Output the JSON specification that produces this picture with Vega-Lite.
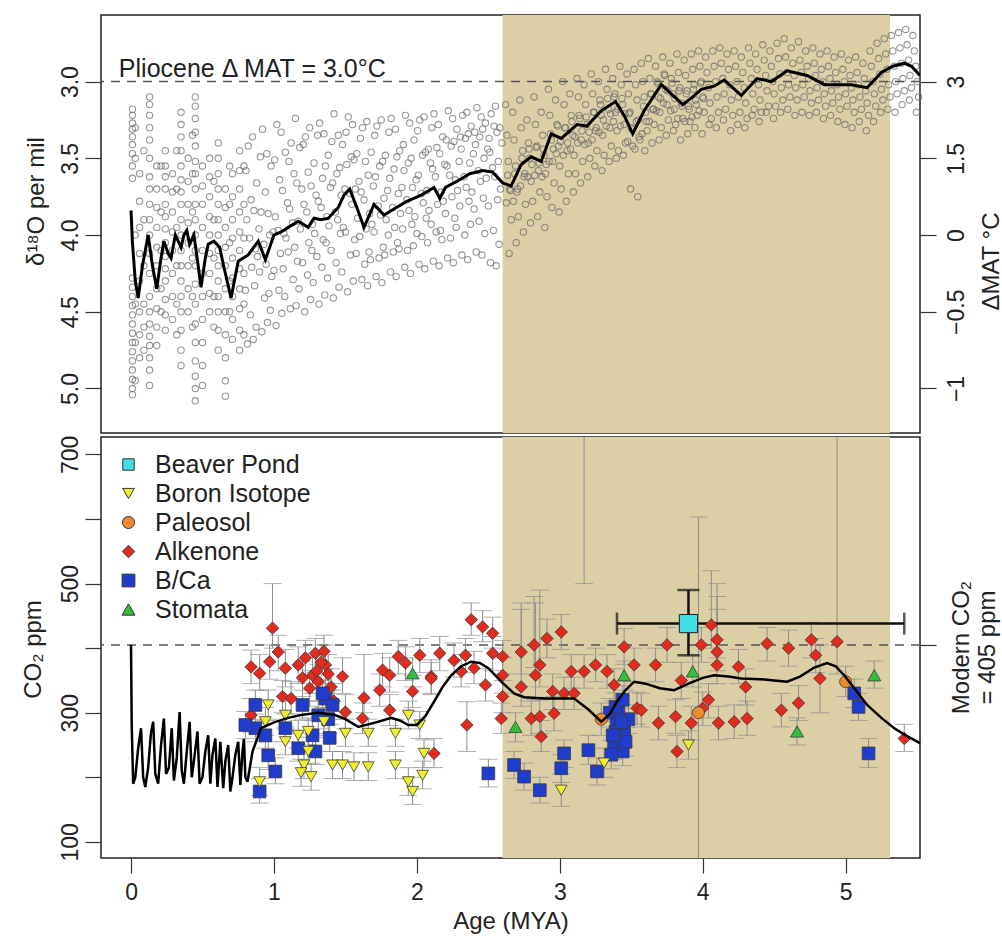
{
"$schema": "https://vega.github.io/schema/vega-lite/v6.json",
"autosize": {"type": "pad"},
"padding": {"left": 20, "top": 14, "right": 0, "bottom": 0},
"background": "white",
"spacing": 0,
"resolve": {"legend": {"color": "independent", "shape": "independent", "size": "independent"}},
"config": {
  "font": "Liberation Sans",
  "view": {"stroke": "#222", "strokeWidth": 1.5},
  "axis": {"labelFont": "Liberation Sans", "titleFont": "Liberation Sans", "labelFontSize": 23, "titleFontSize": 24, "titleFontWeight": "normal", "labelColor": "#222", "titleColor": "#222", "tickColor": "#333", "tickWidth": 1.2, "tickSize": 16, "domain": false, "grid": false},
  "legend": {"labelFont": "Liberation Sans"}
},
"datasets": {
  "shade": [{"x1": 2.6, "x2": 5.31}],
  "iso": [
{"age":0.01,"d":3.18},{"age":0.01,"d":3.22},{"age":0.01,"d":3.27},{"age":0.01,"d":3.31},{"age":0.01,"d":3.36},{"age":0.01,"d":3.41},{"age":0.01,"d":3.47},{"age":0.01,"d":3.55},{"age":0.01,"d":3.63},{"age":0.01,"d":4.28},{"age":0.01,"d":4.34},{"age":0.01,"d":4.4},{"age":0.01,"d":4.46},{"age":0.01,"d":4.52},{"age":0.01,"d":4.58},{"age":0.01,"d":4.64},{"age":0.01,"d":4.7},{"age":0.01,"d":4.76},{"age":0.01,"d":4.82},{"age":0.01,"d":4.88},{"age":0.01,"d":4.94},{"age":0.01,"d":5.0},{"age":0.01,"d":5.04},
{"age":0.03,"d":3.3},{"age":0.03,"d":3.5},{"age":0.03,"d":4.0},{"age":0.03,"d":4.45},{"age":0.03,"d":4.7},{"age":0.03,"d":4.95},
{"age":0.06,"d":3.6},{"age":0.06,"d":3.78},{"age":0.06,"d":3.95},{"age":0.06,"d":4.12},{"age":0.06,"d":4.3},{"age":0.06,"d":4.5},{"age":0.06,"d":4.65},{"age":0.06,"d":4.8},
{"age":0.09,"d":3.45},{"age":0.09,"d":3.9},{"age":0.09,"d":4.2},{"age":0.09,"d":4.45},{"age":0.09,"d":4.6},{"age":0.09,"d":4.75},
{"age":0.13,"d":3.1},{"age":0.13,"d":3.15},{"age":0.13,"d":3.22},{"age":0.13,"d":3.3},{"age":0.13,"d":3.38},{"age":0.13,"d":3.5},{"age":0.13,"d":3.62},{"age":0.13,"d":3.7},{"age":0.13,"d":3.8},{"age":0.13,"d":3.9},{"age":0.13,"d":4.0},{"age":0.13,"d":4.12},{"age":0.13,"d":4.25},{"age":0.13,"d":4.4},{"age":0.13,"d":4.5},{"age":0.13,"d":4.58},{"age":0.13,"d":4.66},{"age":0.13,"d":4.72},{"age":0.13,"d":4.8},{"age":0.13,"d":4.88},{"age":0.13,"d":4.98},
{"age":0.18,"d":3.55},{"age":0.18,"d":3.7},{"age":0.18,"d":3.82},{"age":0.18,"d":3.95},{"age":0.18,"d":4.08},{"age":0.18,"d":4.2},{"age":0.18,"d":4.35},{"age":0.18,"d":4.48},{"age":0.18,"d":4.6},{"age":0.18,"d":4.72},
{"age":0.21,"d":3.55},{"age":0.21,"d":3.85},{"age":0.21,"d":4.1},{"age":0.21,"d":4.35},{"age":0.21,"d":4.5},
{"age":0.24,"d":3.45},{"age":0.24,"d":3.55},{"age":0.24,"d":3.62},{"age":0.24,"d":3.7},{"age":0.24,"d":3.8},{"age":0.24,"d":3.88},{"age":0.24,"d":3.96},{"age":0.24,"d":4.05},{"age":0.24,"d":4.14},{"age":0.24,"d":4.22},{"age":0.24,"d":4.3},{"age":0.24,"d":4.42},{"age":0.24,"d":4.52},{"age":0.24,"d":4.62},
{"age":0.29,"d":3.6},{"age":0.29,"d":3.72},{"age":0.29,"d":3.85},{"age":0.29,"d":3.98},{"age":0.29,"d":4.1},{"age":0.29,"d":4.25},{"age":0.29,"d":4.4},{"age":0.29,"d":4.55},
{"age":0.32,"d":3.45},{"age":0.32,"d":3.7},{"age":0.32,"d":3.95},{"age":0.32,"d":4.2},{"age":0.32,"d":4.45},{"age":0.32,"d":4.65},
{"age":0.35,"d":3.2},{"age":0.35,"d":3.28},{"age":0.35,"d":3.36},{"age":0.35,"d":3.45},{"age":0.35,"d":3.55},{"age":0.35,"d":3.64},{"age":0.35,"d":3.72},{"age":0.35,"d":3.8},{"age":0.35,"d":3.9},{"age":0.35,"d":4.0},{"age":0.35,"d":4.1},{"age":0.35,"d":4.2},{"age":0.35,"d":4.3},{"age":0.35,"d":4.4},{"age":0.35,"d":4.5},{"age":0.35,"d":4.62},{"age":0.35,"d":4.75},{"age":0.35,"d":4.85},
{"age":0.4,"d":3.5},{"age":0.4,"d":3.65},{"age":0.4,"d":3.8},{"age":0.4,"d":3.92},{"age":0.4,"d":4.05},{"age":0.4,"d":4.2},{"age":0.4,"d":4.35},{"age":0.4,"d":4.5},
{"age":0.43,"d":3.35},{"age":0.43,"d":3.6},{"age":0.43,"d":3.85},{"age":0.43,"d":4.15},{"age":0.43,"d":4.4},{"age":0.43,"d":4.6},
{"age":0.45,"d":3.1},{"age":0.45,"d":3.16},{"age":0.45,"d":3.24},{"age":0.45,"d":3.33},{"age":0.45,"d":3.42},{"age":0.45,"d":3.52},{"age":0.45,"d":3.6},{"age":0.45,"d":3.7},{"age":0.45,"d":3.8},{"age":0.45,"d":3.9},{"age":0.45,"d":4.0},{"age":0.45,"d":4.1},{"age":0.45,"d":4.2},{"age":0.45,"d":4.32},{"age":0.45,"d":4.45},{"age":0.45,"d":4.58},{"age":0.45,"d":4.7},{"age":0.45,"d":4.82},{"age":0.45,"d":4.92},{"age":0.45,"d":5.0},{"age":0.45,"d":5.08},
{"age":0.5,"d":3.55},{"age":0.5,"d":3.68},{"age":0.5,"d":3.8},{"age":0.5,"d":3.95},{"age":0.5,"d":4.1},{"age":0.5,"d":4.25},{"age":0.5,"d":4.4},{"age":0.5,"d":4.55},{"age":0.5,"d":4.7},{"age":0.5,"d":4.85},{"age":0.5,"d":4.98},
{"age":0.55,"d":3.5},{"age":0.55,"d":3.62},{"age":0.55,"d":3.75},{"age":0.55,"d":3.88},{"age":0.55,"d":4.0},{"age":0.55,"d":4.12},{"age":0.55,"d":4.25},{"age":0.55,"d":4.38},{"age":0.55,"d":4.5},
{"age":0.58,"d":3.65},{"age":0.58,"d":3.9},{"age":0.58,"d":4.15},{"age":0.58,"d":4.4},{"age":0.58,"d":4.6},
{"age":0.61,"d":3.4},{"age":0.61,"d":3.5},{"age":0.61,"d":3.6},{"age":0.61,"d":3.7},{"age":0.61,"d":3.8},{"age":0.61,"d":3.9},{"age":0.61,"d":4.0},{"age":0.61,"d":4.1},{"age":0.61,"d":4.2},{"age":0.61,"d":4.3},{"age":0.61,"d":4.4},{"age":0.61,"d":4.5},{"age":0.61,"d":4.62},{"age":0.61,"d":4.75},
{"age":0.66,"d":3.7},{"age":0.66,"d":3.82},{"age":0.66,"d":3.95},{"age":0.66,"d":4.08},{"age":0.66,"d":4.2},{"age":0.66,"d":4.35},{"age":0.66,"d":4.5},{"age":0.66,"d":4.65},{"age":0.66,"d":4.8},{"age":0.66,"d":4.95},{"age":0.66,"d":5.05},
{"age":0.69,"d":3.55},{"age":0.69,"d":3.8},{"age":0.69,"d":4.05},{"age":0.69,"d":4.3},{"age":0.69,"d":4.5},
{"age":0.71,"d":3.6},{"age":0.71,"d":3.75},{"age":0.71,"d":3.9},{"age":0.71,"d":4.02},{"age":0.71,"d":4.15},{"age":0.71,"d":4.28},{"age":0.71,"d":4.4},{"age":0.71,"d":4.55},{"age":0.71,"d":4.68},
{"age":0.76,"d":3.45},{"age":0.76,"d":3.58},{"age":0.76,"d":3.7},{"age":0.76,"d":3.85},{"age":0.76,"d":3.98},{"age":0.76,"d":4.1},{"age":0.76,"d":4.22},{"age":0.76,"d":4.35},{"age":0.76,"d":4.48},{"age":0.76,"d":4.62},{"age":0.76,"d":4.75},
{"age":0.79,"d":3.55},{"age":0.79,"d":3.8},{"age":0.79,"d":4.02},{"age":0.79,"d":4.25},{"age":0.79,"d":4.45},{"age":0.79,"d":4.65},
{"age":0.82,"d":3.42},{"age":0.805,"d":3.58},{"age":0.84,"d":3.77},{"age":0.81,"d":3.9},{"age":0.83,"d":4.02},{"age":0.845,"d":4.21},{"age":0.8,"d":4.36},{"age":0.835,"d":4.52},{"age":0.815,"d":4.71},
{"age":0.85,"d":3.36},{"age":0.88,"d":3.66},{"age":0.86,"d":3.84},{"age":0.895,"d":3.96},{"age":0.87,"d":4.09},{"age":0.885,"d":4.14},{"age":0.865,"d":4.33},{"age":0.875,"d":4.6},{"age":0.855,"d":4.68},
{"age":0.92,"d":3.31},{"age":0.905,"d":3.49},{"age":0.94,"d":3.72},{"age":0.91,"d":3.85},{"age":0.93,"d":4.06},{"age":0.945,"d":4.19},{"age":0.9,"d":4.24},{"age":0.935,"d":4.41},{"age":0.915,"d":4.63},
{"age":0.95,"d":3.47},{"age":0.98,"d":3.55},{"age":0.96,"d":3.86},{"age":0.995,"d":3.98},{"age":0.97,"d":4.0},{"age":0.985,"d":4.27},{"age":0.965,"d":4.38},{"age":0.975,"d":4.49},{"age":0.955,"d":4.57},
{"age":1.02,"d":3.28},{"age":1.005,"d":3.51},{"age":1.04,"d":3.64},{"age":1.01,"d":3.88},{"age":1.03,"d":3.97},{"age":1.045,"d":4.12},{"age":1.0,"d":4.23},{"age":1.035,"d":4.36},{"age":1.015,"d":4.59},
{"age":1.05,"d":3.33},{"age":1.08,"d":3.46},{"age":1.06,"d":3.71},{"age":1.095,"d":3.79},{"age":1.07,"d":3.99},{"age":1.085,"d":4.02},{"age":1.065,"d":4.22},{"age":1.075,"d":4.4},{"age":1.055,"d":4.51},
{"age":1.12,"d":3.4},{"age":1.105,"d":3.52},{"age":1.14,"d":3.6},{"age":1.11,"d":3.83},{"age":1.13,"d":3.92},{"age":1.145,"d":4.08},{"age":1.1,"d":4.11},{"age":1.135,"d":4.29},{"age":1.115,"d":4.48},
{"age":1.15,"d":3.24},{"age":1.18,"d":3.43},{"age":1.16,"d":3.66},{"age":1.195,"d":3.7},{"age":1.17,"d":3.91},{"age":1.185,"d":3.96},{"age":1.165,"d":4.17},{"age":1.175,"d":4.35},{"age":1.155,"d":4.46},
{"age":1.22,"d":3.36},{"age":1.205,"d":3.41},{"age":1.24,"d":3.59},{"age":1.21,"d":3.8},{"age":1.23,"d":3.85},{"age":1.245,"d":4.05},{"age":1.2,"d":4.18},{"age":1.235,"d":4.26},{"age":1.215,"d":4.5},
{"age":1.25,"d":3.3},{"age":1.28,"d":3.53},{"age":1.26,"d":3.68},{"age":1.295,"d":3.74},{"age":1.27,"d":3.93},{"age":1.285,"d":3.99},{"age":1.265,"d":4.1},{"age":1.275,"d":4.31},{"age":1.255,"d":4.42},
{"age":1.32,"d":3.27},{"age":1.305,"d":3.35},{"age":1.34,"d":3.63},{"age":1.31,"d":3.78},{"age":1.33,"d":3.82},{"age":1.345,"d":4.03},{"age":1.3,"d":4.14},{"age":1.335,"d":4.21},{"age":1.315,"d":4.45},
{"age":1.35,"d":3.34},{"age":1.38,"d":3.48},{"age":1.36,"d":3.55},{"age":1.395,"d":3.69},{"age":1.37,"d":3.88},{"age":1.385,"d":3.94},{"age":1.365,"d":4.05},{"age":1.375,"d":4.28},{"age":1.355,"d":4.39},
{"age":1.42,"d":3.21},{"age":1.405,"d":3.39},{"age":1.44,"d":3.6},{"age":1.41,"d":3.66},{"age":1.43,"d":3.85},{"age":1.445,"d":3.9},{"age":1.4,"d":4.1},{"age":1.435,"d":4.18},{"age":1.415,"d":4.41},
{"age":1.45,"d":3.35},{"age":1.48,"d":3.41},{"age":1.46,"d":3.56},{"age":1.495,"d":3.7},{"age":1.47,"d":3.74},{"age":1.485,"d":3.95},{"age":1.465,"d":3.99},{"age":1.475,"d":4.24},{"age":1.455,"d":4.34},
{"age":1.52,"d":3.23},{"age":1.505,"d":3.33},{"age":1.54,"d":3.49},{"age":1.51,"d":3.54},{"age":1.53,"d":3.73},{"age":1.545,"d":3.8},{"age":1.5,"d":3.98},{"age":1.535,"d":4.13},{"age":1.515,"d":4.37},
{"age":1.55,"d":3.28},{"age":1.58,"d":3.47},{"age":1.56,"d":3.51},{"age":1.595,"d":3.65},{"age":1.57,"d":3.7},{"age":1.585,"d":3.89},{"age":1.565,"d":4.03},{"age":1.575,"d":4.12},{"age":1.555,"d":4.3},
{"age":1.62,"d":3.3},{"age":1.605,"d":3.37},{"age":1.64,"d":3.52},{"age":1.61,"d":3.72},{"age":1.63,"d":3.77},{"age":1.645,"d":3.96},{"age":1.6,"d":4.01},{"age":1.635,"d":4.19},{"age":1.615,"d":4.29},
{"age":1.65,"d":3.26},{"age":1.68,"d":3.46},{"age":1.66,"d":3.61},{"age":1.695,"d":3.68},{"age":1.67,"d":3.86},{"age":1.685,"d":3.93},{"age":1.665,"d":4.11},{"age":1.675,"d":4.16},{"age":1.655,"d":4.33},
{"age":1.72,"d":3.29},{"age":1.705,"d":3.35},{"age":1.74,"d":3.55},{"age":1.71,"d":3.62},{"age":1.73,"d":3.81},{"age":1.745,"d":3.87},{"age":1.7,"d":3.98},{"age":1.735,"d":4.15},{"age":1.715,"d":4.27},
{"age":1.75,"d":3.25},{"age":1.78,"d":3.48},{"age":1.76,"d":3.52},{"age":1.795,"d":3.71},{"age":1.77,"d":3.76},{"age":1.785,"d":3.9},{"age":1.765,"d":4.08},{"age":1.775,"d":4.13},{"age":1.755,"d":4.31},
{"age":1.82,"d":3.24},{"age":1.805,"d":3.33},{"age":1.84,"d":3.57},{"age":1.81,"d":3.63},{"age":1.83,"d":3.82},{"age":1.845,"d":3.95},{"age":1.8,"d":4.0},{"age":1.835,"d":4.11},{"age":1.815,"d":4.24},
{"age":1.85,"d":3.31},{"age":1.88,"d":3.45},{"age":1.86,"d":3.49},{"age":1.895,"d":3.69},{"age":1.87,"d":3.73},{"age":1.885,"d":3.86},{"age":1.865,"d":4.05},{"age":1.875,"d":4.09},{"age":1.855,"d":4.27},
{"age":1.92,"d":3.22},{"age":1.905,"d":3.41},{"age":1.94,"d":3.53},{"age":1.91,"d":3.58},{"age":1.93,"d":3.77},{"age":1.945,"d":3.84},{"age":1.9,"d":3.96},{"age":1.935,"d":4.1},{"age":1.915,"d":4.21},
{"age":1.95,"d":3.27},{"age":1.98,"d":3.38},{"age":1.96,"d":3.5},{"age":1.995,"d":3.64},{"age":1.97,"d":3.69},{"age":1.985,"d":3.88},{"age":1.965,"d":3.93},{"age":1.975,"d":4.07},{"age":1.955,"d":4.25},
{"age":2.02,"d":3.25},{"age":2.005,"d":3.32},{"age":2.04,"d":3.48},{"age":2.01,"d":3.61},{"age":2.03,"d":3.73},{"age":2.045,"d":3.79},{"age":2.0,"d":3.99},{"age":2.035,"d":4.01},{"age":2.015,"d":4.19},
{"age":2.05,"d":3.23},{"age":2.08,"d":3.44},{"age":2.06,"d":3.46},{"age":2.095,"d":3.53},{"age":2.07,"d":3.71},{"age":2.085,"d":3.84},{"age":2.065,"d":3.89},{"age":2.075,"d":4.05},{"age":2.055,"d":4.22},
{"age":2.12,"d":3.21},{"age":2.105,"d":3.3},{"age":2.14,"d":3.43},{"age":2.11,"d":3.57},{"age":2.13,"d":3.62},{"age":2.145,"d":3.8},{"age":2.1,"d":3.93},{"age":2.135,"d":3.98},{"age":2.115,"d":4.17},
{"age":2.15,"d":3.28},{"age":2.18,"d":3.36},{"age":2.16,"d":3.47},{"age":2.195,"d":3.54},{"age":2.17,"d":3.72},{"age":2.185,"d":3.78},{"age":2.165,"d":3.97},{"age":2.175,"d":4.03},{"age":2.155,"d":4.2},
{"age":2.22,"d":3.19},{"age":2.205,"d":3.38},{"age":2.24,"d":3.42},{"age":2.21,"d":3.55},{"age":2.23,"d":3.61},{"age":2.245,"d":3.75},{"age":2.2,"d":3.86},{"age":2.235,"d":4.02},{"age":2.215,"d":4.15},
{"age":2.25,"d":3.24},{"age":2.28,"d":3.31},{"age":2.26,"d":3.39},{"age":2.295,"d":3.52},{"age":2.27,"d":3.64},{"age":2.285,"d":3.71},{"age":2.265,"d":3.89},{"age":2.275,"d":3.95},{"age":2.255,"d":4.18},
{"age":2.32,"d":3.22},{"age":2.305,"d":3.36},{"age":2.34,"d":3.37},{"age":2.31,"d":3.44},{"age":2.33,"d":3.62},{"age":2.345,"d":3.69},{"age":2.3,"d":3.81},{"age":2.335,"d":4.0},{"age":2.315,"d":4.13},
{"age":2.35,"d":3.2},{"age":2.38,"d":3.29},{"age":2.36,"d":3.34},{"age":2.395,"d":3.47},{"age":2.37,"d":3.53},{"age":2.385,"d":3.72},{"age":2.365,"d":3.78},{"age":2.375,"d":3.93},{"age":2.355,"d":4.16},
{"age":2.42,"d":3.17},{"age":2.405,"d":3.33},{"age":2.44,"d":3.36},{"age":2.41,"d":3.41},{"age":2.43,"d":3.58},{"age":2.445,"d":3.65},{"age":2.4,"d":3.83},{"age":2.435,"d":3.91},{"age":2.415,"d":4.11},
{"age":2.45,"d":3.23},{"age":2.48,"d":3.27},{"age":2.46,"d":3.31},{"age":2.495,"d":3.44},{"age":2.47,"d":3.5},{"age":2.485,"d":3.63},{"age":2.465,"d":3.76},{"age":2.475,"d":3.99},{"age":2.455,"d":4.13},
{"age":2.52,"d":3.21},{"age":2.505,"d":3.37},{"age":2.54,"d":3.29},{"age":2.51,"d":3.46},{"age":2.53,"d":3.56},{"age":2.545,"d":3.62},{"age":2.5,"d":3.81},{"age":2.535,"d":3.97},{"age":2.515,"d":4.18},
{"age":2.55,"d":3.16},{"age":2.58,"d":3.3},{"age":2.56,"d":3.33},{"age":2.595,"d":3.4},{"age":2.57,"d":3.52},{"age":2.585,"d":3.7},{"age":2.565,"d":3.77},{"age":2.575,"d":4.06},{"age":2.555,"d":4.2},
{"age":2.62,"d":3.15},{"age":2.63,"d":3.35},{"age":2.64,"d":3.52},{"age":2.65,"d":3.7},{"age":2.66,"d":3.9},{"age":2.645,"d":4.12},{"age":2.635,"d":3.61},{"age":2.655,"d":3.71},{"age":2.625,"d":3.79},
{"age":2.67,"d":3.2},{"age":2.68,"d":3.38},{"age":2.69,"d":3.55},{"age":2.7,"d":3.72},{"age":2.71,"d":3.88},{"age":2.695,"d":4.05},{"age":2.685,"d":3.6},{"age":2.705,"d":3.7},{"age":2.675,"d":3.78},
{"age":2.72,"d":3.12},{"age":2.73,"d":3.3},{"age":2.74,"d":3.45},{"age":2.75,"d":3.62},{"age":2.76,"d":3.8},{"age":2.745,"d":3.98},{"age":2.735,"d":3.5},{"age":2.755,"d":3.6},{"age":2.725,"d":3.68},
{"age":2.77,"d":3.25},{"age":2.78,"d":3.4},{"age":2.79,"d":3.5},{"age":2.8,"d":3.65},{"age":2.81,"d":3.78},{"age":2.795,"d":3.92},{"age":2.785,"d":3.44},{"age":2.805,"d":3.54},{"age":2.775,"d":3.62},
{"age":2.82,"d":3.1},{"age":2.83,"d":3.28},{"age":2.84,"d":3.42},{"age":2.85,"d":3.58},{"age":2.86,"d":3.72},{"age":2.845,"d":3.88},{"age":2.835,"d":3.43},{"age":2.855,"d":3.53},{"age":2.825,"d":3.61},
{"age":2.87,"d":3.2},{"age":2.88,"d":3.35},{"age":2.89,"d":3.48},{"age":2.9,"d":3.6},{"age":2.91,"d":3.75},{"age":2.895,"d":3.95},{"age":2.885,"d":3.44},{"age":2.905,"d":3.54},{"age":2.875,"d":3.62},
{"age":2.92,"d":3.05},{"age":2.93,"d":3.22},{"age":2.94,"d":3.38},{"age":2.95,"d":3.52},{"age":2.96,"d":3.66},{"age":2.945,"d":3.82},{"age":2.935,"d":3.34},{"age":2.955,"d":3.44},{"age":2.925,"d":3.52},
{"age":2.97,"d":3.12},{"age":2.98,"d":3.28},{"age":2.99,"d":3.42},{"age":3.0,"d":3.55},{"age":3.01,"d":3.7},{"age":2.995,"d":3.85},{"age":2.985,"d":3.29},{"age":3.005,"d":3.39},{"age":2.975,"d":3.47},
{"age":3.02,"d":3.0},{"age":3.03,"d":3.15},{"age":3.04,"d":3.3},{"age":3.05,"d":3.45},{"age":3.06,"d":3.6},{"age":3.045,"d":3.78},{"age":3.035,"d":3.3},{"age":3.055,"d":3.4},{"age":3.025,"d":3.48},
{"age":3.07,"d":3.08},{"age":3.08,"d":3.22},{"age":3.09,"d":3.35},{"age":3.1,"d":3.48},{"age":3.11,"d":3.6},{"age":3.095,"d":3.72},{"age":3.085,"d":3.26},{"age":3.105,"d":3.36},{"age":3.075,"d":3.44},
{"age":3.12,"d":2.98},{"age":3.13,"d":3.1},{"age":3.14,"d":3.24},{"age":3.15,"d":3.38},{"age":3.16,"d":3.52},{"age":3.145,"d":3.66},{"age":3.135,"d":3.22},{"age":3.155,"d":3.32},{"age":3.125,"d":3.4},
{"age":3.17,"d":3.02},{"age":3.18,"d":3.15},{"age":3.19,"d":3.28},{"age":3.2,"d":3.4},{"age":3.21,"d":3.5},{"age":3.195,"d":3.62},{"age":3.185,"d":3.23},{"age":3.205,"d":3.33},{"age":3.175,"d":3.41},
{"age":3.22,"d":2.95},{"age":3.23,"d":3.08},{"age":3.24,"d":3.2},{"age":3.25,"d":3.32},{"age":3.26,"d":3.45},{"age":3.245,"d":3.55},{"age":3.235,"d":3.2},{"age":3.255,"d":3.3},{"age":3.225,"d":3.38},
{"age":3.27,"d":3.0},{"age":3.28,"d":3.12},{"age":3.29,"d":3.22},{"age":3.3,"d":3.35},{"age":3.31,"d":3.48},{"age":3.295,"d":3.58},{"age":3.285,"d":3.15},{"age":3.305,"d":3.25},{"age":3.275,"d":3.33},
{"age":3.32,"d":2.92},{"age":3.33,"d":3.05},{"age":3.34,"d":3.18},{"age":3.35,"d":3.3},{"age":3.36,"d":3.42},{"age":3.345,"d":3.52},{"age":3.335,"d":3.11},{"age":3.355,"d":3.21},{"age":3.325,"d":3.29},
{"age":3.37,"d":2.98},{"age":3.38,"d":3.1},{"age":3.39,"d":3.2},{"age":3.4,"d":3.32},{"age":3.41,"d":3.45},{"age":3.395,"d":3.5},{"age":3.385,"d":3.08},{"age":3.405,"d":3.18},{"age":3.375,"d":3.26},
{"age":3.42,"d":2.9},{"age":3.43,"d":3.02},{"age":3.44,"d":3.15},{"age":3.45,"d":3.28},{"age":3.46,"d":3.4},{"age":3.445,"d":3.48},{"age":3.435,"d":3.11},{"age":3.455,"d":3.21},{"age":3.425,"d":3.29},
{"age":3.47,"d":2.95},{"age":3.48,"d":3.08},{"age":3.49,"d":3.2},{"age":3.5,"d":3.3},{"age":3.51,"d":3.42},{"age":3.495,"d":3.7},{"age":3.485,"d":3.21},{"age":3.505,"d":3.31},{"age":3.475,"d":3.39},
{"age":3.52,"d":2.92},{"age":3.53,"d":3.02},{"age":3.54,"d":3.12},{"age":3.55,"d":3.25},{"age":3.56,"d":3.38},{"age":3.545,"d":3.75},{"age":3.535,"d":3.26},{"age":3.555,"d":3.36},{"age":3.525,"d":3.44},
{"age":3.57,"d":2.88},{"age":3.58,"d":3.0},{"age":3.59,"d":3.1},{"age":3.6,"d":3.2},{"age":3.61,"d":3.32},{"age":3.595,"d":3.45},{"age":3.585,"d":3.16},{"age":3.605,"d":3.26},{"age":3.575,"d":3.34},
{"age":3.62,"d":2.85},{"age":3.63,"d":2.98},{"age":3.64,"d":3.08},{"age":3.65,"d":3.18},{"age":3.66,"d":3.28},{"age":3.645,"d":3.4},{"age":3.635,"d":3.08},{"age":3.655,"d":3.18},{"age":3.625,"d":3.26},
{"age":3.67,"d":2.9},{"age":3.68,"d":3.0},{"age":3.69,"d":3.1},{"age":3.7,"d":3.2},{"age":3.71,"d":3.3},{"age":3.695,"d":3.38},{"age":3.685,"d":3.01},{"age":3.705,"d":3.11},{"age":3.675,"d":3.19},
{"age":3.72,"d":2.84},{"age":3.73,"d":2.95},{"age":3.74,"d":3.05},{"age":3.75,"d":3.15},{"age":3.76,"d":3.25},{"age":3.745,"d":3.35},{"age":3.735,"d":2.96},{"age":3.755,"d":3.06},{"age":3.725,"d":3.14},
{"age":3.77,"d":2.88},{"age":3.78,"d":2.98},{"age":3.79,"d":3.08},{"age":3.8,"d":3.18},{"age":3.81,"d":3.28},{"age":3.795,"d":3.32},{"age":3.785,"d":3.01},{"age":3.805,"d":3.11},{"age":3.775,"d":3.19},
{"age":3.82,"d":2.82},{"age":3.83,"d":2.94},{"age":3.84,"d":3.04},{"age":3.85,"d":3.14},{"age":3.86,"d":3.24},{"age":3.845,"d":3.38},{"age":3.835,"d":3.06},{"age":3.855,"d":3.16},{"age":3.825,"d":3.24},
{"age":3.87,"d":2.86},{"age":3.88,"d":2.96},{"age":3.89,"d":3.06},{"age":3.9,"d":3.16},{"age":3.91,"d":3.26},{"age":3.895,"d":3.34},{"age":3.885,"d":3.08},{"age":3.905,"d":3.18},{"age":3.875,"d":3.26},
{"age":3.92,"d":2.82},{"age":3.93,"d":2.92},{"age":3.94,"d":3.02},{"age":3.95,"d":3.12},{"age":3.96,"d":3.22},{"age":3.945,"d":3.3},{"age":3.935,"d":3.05},{"age":3.955,"d":3.15},{"age":3.925,"d":3.23},
{"age":3.97,"d":2.8},{"age":3.98,"d":2.9},{"age":3.99,"d":3.0},{"age":4.0,"d":3.1},{"age":4.01,"d":3.2},{"age":3.995,"d":3.34},{"age":3.985,"d":3.01},{"age":4.005,"d":3.11},{"age":3.975,"d":3.19},
{"age":4.02,"d":2.84},{"age":4.03,"d":2.94},{"age":4.04,"d":3.04},{"age":4.05,"d":3.14},{"age":4.06,"d":3.24},{"age":4.045,"d":3.28},
{"age":4.07,"d":2.8},{"age":4.08,"d":2.9},{"age":4.09,"d":3.0},{"age":4.1,"d":3.1},{"age":4.11,"d":3.2},{"age":4.095,"d":3.3},
{"age":4.12,"d":2.78},{"age":4.13,"d":2.88},{"age":4.14,"d":2.98},{"age":4.15,"d":3.08},{"age":4.16,"d":3.18},{"age":4.145,"d":3.25},
{"age":4.17,"d":2.82},{"age":4.18,"d":2.92},{"age":4.19,"d":3.02},{"age":4.2,"d":3.12},{"age":4.21,"d":3.22},{"age":4.195,"d":3.32},
{"age":4.22,"d":2.8},{"age":4.23,"d":2.9},{"age":4.24,"d":3.0},{"age":4.25,"d":3.1},{"age":4.26,"d":3.2},{"age":4.245,"d":3.28},
{"age":4.27,"d":2.84},{"age":4.28,"d":2.94},{"age":4.29,"d":3.04},{"age":4.3,"d":3.14},{"age":4.31,"d":3.24},{"age":4.295,"d":3.3},
{"age":4.32,"d":2.78},{"age":4.33,"d":2.88},{"age":4.34,"d":2.98},{"age":4.35,"d":3.08},{"age":4.36,"d":3.18},{"age":4.345,"d":3.22},
{"age":4.37,"d":2.82},{"age":4.38,"d":2.92},{"age":4.39,"d":3.02},{"age":4.4,"d":3.12},{"age":4.41,"d":3.2},{"age":4.395,"d":3.26},
{"age":4.42,"d":2.76},{"age":4.43,"d":2.86},{"age":4.44,"d":2.96},{"age":4.45,"d":3.06},{"age":4.46,"d":3.16},{"age":4.445,"d":3.2},
{"age":4.47,"d":2.8},{"age":4.48,"d":2.9},{"age":4.49,"d":3.0},{"age":4.5,"d":3.08},{"age":4.51,"d":3.16},{"age":4.495,"d":3.24},
{"age":4.52,"d":2.75},{"age":4.53,"d":2.85},{"age":4.54,"d":2.95},{"age":4.55,"d":3.04},{"age":4.56,"d":3.12},{"age":4.545,"d":3.2},
{"age":4.57,"d":2.72},{"age":4.58,"d":2.84},{"age":4.59,"d":2.94},{"age":4.6,"d":3.02},{"age":4.61,"d":3.1},{"age":4.595,"d":3.18},
{"age":4.62,"d":2.78},{"age":4.63,"d":2.88},{"age":4.64,"d":2.96},{"age":4.65,"d":3.04},{"age":4.66,"d":3.12},{"age":4.645,"d":3.22},
{"age":4.67,"d":2.74},{"age":4.68,"d":2.86},{"age":4.69,"d":2.94},{"age":4.7,"d":3.02},{"age":4.71,"d":3.1},{"age":4.695,"d":3.2},
{"age":4.72,"d":2.8},{"age":4.73,"d":2.9},{"age":4.74,"d":2.98},{"age":4.75,"d":3.06},{"age":4.76,"d":3.14},{"age":4.745,"d":3.22},
{"age":4.77,"d":2.78},{"age":4.78,"d":2.88},{"age":4.79,"d":2.96},{"age":4.8,"d":3.04},{"age":4.81,"d":3.12},{"age":4.795,"d":3.2},
{"age":4.82,"d":2.82},{"age":4.83,"d":2.92},{"age":4.84,"d":3.0},{"age":4.85,"d":3.08},{"age":4.86,"d":3.16},{"age":4.845,"d":3.24},
{"age":4.87,"d":2.8},{"age":4.88,"d":2.9},{"age":4.89,"d":2.98},{"age":4.9,"d":3.06},{"age":4.91,"d":3.14},{"age":4.895,"d":3.22},
{"age":4.92,"d":2.84},{"age":4.93,"d":2.94},{"age":4.94,"d":3.02},{"age":4.95,"d":3.1},{"age":4.96,"d":3.18},{"age":4.945,"d":3.26},
{"age":4.97,"d":2.82},{"age":4.98,"d":2.92},{"age":4.99,"d":3.0},{"age":5.0,"d":3.08},{"age":5.01,"d":3.16},{"age":4.995,"d":3.28},
{"age":5.02,"d":2.86},{"age":5.03,"d":2.96},{"age":5.04,"d":3.04},{"age":5.05,"d":3.12},{"age":5.06,"d":3.2},{"age":5.045,"d":3.3},
{"age":5.07,"d":2.84},{"age":5.08,"d":2.94},{"age":5.09,"d":3.02},{"age":5.1,"d":3.1},{"age":5.11,"d":3.18},{"age":5.095,"d":3.26},
{"age":5.12,"d":2.88},{"age":5.13,"d":2.98},{"age":5.14,"d":3.06},{"age":5.15,"d":3.14},{"age":5.16,"d":3.22},{"age":5.145,"d":3.32},
{"age":5.17,"d":2.8},{"age":5.18,"d":2.9},{"age":5.19,"d":3.0},{"age":5.2,"d":3.08},{"age":5.21,"d":3.16},{"age":5.195,"d":3.26},
{"age":5.22,"d":2.75},{"age":5.23,"d":2.85},{"age":5.24,"d":2.95},{"age":5.25,"d":3.05},{"age":5.26,"d":3.12},{"age":5.245,"d":3.2},
{"age":5.27,"d":2.72},{"age":5.28,"d":2.82},{"age":5.29,"d":2.92},{"age":5.3,"d":3.02},{"age":5.31,"d":3.1},{"age":5.295,"d":3.18},
{"age":5.32,"d":2.7},{"age":5.33,"d":2.8},{"age":5.34,"d":2.9},{"age":5.35,"d":3.0},{"age":5.36,"d":3.08},{"age":5.345,"d":3.2},
{"age":5.37,"d":2.68},{"age":5.38,"d":2.78},{"age":5.39,"d":2.88},{"age":5.4,"d":2.98},{"age":5.41,"d":3.06},{"age":5.395,"d":3.15},
{"age":5.42,"d":2.66},{"age":5.43,"d":2.76},{"age":5.44,"d":2.86},{"age":5.45,"d":2.96},{"age":5.46,"d":3.04},{"age":5.445,"d":3.12},
{"age":5.47,"d":2.7},{"age":5.48,"d":2.8},{"age":5.49,"d":2.9},{"age":5.5,"d":3.0},{"age":5.51,"d":3.1},{"age":5.495,"d":3.2}
  ],
  "isoLine": [
{"age":0.0,"d":3.84},{"age":0.01,"d":4.05},{"age":0.03,"d":4.3},{"age":0.05,"d":4.41},{"age":0.08,"d":4.2},{"age":0.12,"d":4.0},{"age":0.15,"d":4.2},{"age":0.18,"d":4.35},{"age":0.21,"d":4.15},{"age":0.23,"d":4.04},{"age":0.26,"d":4.12},{"age":0.28,"d":4.15},{"age":0.31,"d":4.0},{"age":0.33,"d":4.04},{"age":0.35,"d":4.08},{"age":0.37,"d":4.0},{"age":0.39,"d":3.97},{"age":0.41,"d":4.06},{"age":0.44,"d":4.0},{"age":0.47,"d":4.2},{"age":0.49,"d":4.34},{"age":0.52,"d":4.15},{"age":0.54,"d":4.06},{"age":0.58,"d":4.04},{"age":0.62,"d":4.08},{"age":0.65,"d":4.21},{"age":0.7,"d":4.41},{"age":0.75,"d":4.17},{"age":0.82,"d":4.13},{"age":0.89,"d":4.04},{"age":0.94,"d":4.16},{"age":1.0,"d":4.0},{"age":1.05,"d":3.98},{"age":1.1,"d":3.95},{"age":1.17,"d":3.91},{"age":1.24,"d":3.95},{"age":1.28,"d":3.89},{"age":1.33,"d":3.9},{"age":1.38,"d":3.89},{"age":1.45,"d":3.82},{"age":1.49,"d":3.74},{"age":1.53,"d":3.7},{"age":1.58,"d":3.82},{"age":1.63,"d":3.95},{"age":1.7,"d":3.8},{"age":1.77,"d":3.87},{"age":1.84,"d":3.83},{"age":1.93,"d":3.78},{"age":2.03,"d":3.74},{"age":2.12,"d":3.69},{"age":2.16,"d":3.76},{"age":2.2,"d":3.69},{"age":2.3,"d":3.64},{"age":2.37,"d":3.6},{"age":2.46,"d":3.58},{"age":2.53,"d":3.59},{"age":2.6,"d":3.66},{"age":2.66,"d":3.68},{"age":2.73,"d":3.54},{"age":2.8,"d":3.49},{"age":2.87,"d":3.52},{"age":2.94,"d":3.34},{"age":3.01,"d":3.37},{"age":3.12,"d":3.28},{"age":3.19,"d":3.29},{"age":3.29,"d":3.19},{"age":3.39,"d":3.13},{"age":3.45,"d":3.22},{"age":3.51,"d":3.34},{"age":3.59,"d":3.19},{"age":3.71,"d":3.02},{"age":3.78,"d":3.08},{"age":3.86,"d":3.15},{"age":3.93,"d":3.1},{"age":3.99,"d":3.05},{"age":4.08,"d":3.03},{"age":4.15,"d":2.99},{"age":4.27,"d":3.09},{"age":4.38,"d":2.98},{"age":4.48,"d":3.0},{"age":4.59,"d":2.93},{"age":4.73,"d":2.96},{"age":4.85,"d":3.02},{"age":5.04,"d":3.02},{"age":5.15,"d":3.04},{"age":5.25,"d":2.94},{"age":5.33,"d":2.9},{"age":5.41,"d":2.88},{"age":5.46,"d":2.9},{"age":5.52,"d":2.96}
  ],
  "ice": [
{"age":0,"co2":405},{"age":0.005,"co2":280},{"age":0.015,"co2":190},{"age":0.03,"co2":200},{"age":0.05,"co2":245},{"age":0.07,"co2":276},{"age":0.085,"co2":200},{"age":0.1,"co2":185},{"age":0.12,"co2":215},{"age":0.14,"co2":270},{"age":0.155,"co2":286},{"age":0.17,"co2":205},{"age":0.19,"co2":190},{"age":0.21,"co2":250},{"age":0.23,"co2":291},{"age":0.245,"co2":205},{"age":0.265,"co2":215},{"age":0.285,"co2":276},{"age":0.3,"co2":195},{"age":0.32,"co2":230},{"age":0.34,"co2":301},{"age":0.355,"co2":210},{"age":0.37,"co2":190},{"age":0.39,"co2":240},{"age":0.41,"co2":286},{"age":0.425,"co2":200},{"age":0.44,"co2":225},{"age":0.465,"co2":271},{"age":0.48,"co2":190},{"age":0.5,"co2":200},{"age":0.52,"co2":240},{"age":0.54,"co2":265},{"age":0.555,"co2":190},{"age":0.57,"co2":235},{"age":0.59,"co2":260},{"age":0.605,"co2":185},{"age":0.625,"co2":255},{"age":0.645,"co2":183},{"age":0.66,"co2":225},{"age":0.68,"co2":250},{"age":0.695,"co2":178},{"age":0.71,"co2":200},{"age":0.73,"co2":235},{"age":0.75,"co2":255},{"age":0.765,"co2":188},{"age":0.78,"co2":240},{"age":0.79,"co2":260},{"age":0.8,"co2":200},{"age":0.815,"co2":193}
  ],
  "co2Line": [
{"age":0.815,"co2":193},{"age":0.85,"co2":240},{"age":0.91,"co2":276},{"age":1.0,"co2":285},{"age":1.1,"co2":292},{"age":1.2,"co2":297},{"age":1.31,"co2":300},{"age":1.42,"co2":297},{"age":1.5,"co2":290},{"age":1.59,"co2":278},{"age":1.66,"co2":282},{"age":1.73,"co2":286},{"age":1.82,"co2":292},{"age":1.88,"co2":288},{"age":1.94,"co2":281},{"age":2.0,"co2":281},{"age":2.06,"co2":295},{"age":2.12,"co2":317},{"age":2.18,"co2":340},{"age":2.24,"co2":358},{"age":2.31,"co2":372},{"age":2.38,"co2":379},{"age":2.44,"co2":377},{"age":2.5,"co2":369},{"age":2.59,"co2":348},{"age":2.68,"co2":330},{"age":2.75,"co2":324},{"age":2.9,"co2":322},{"age":3.1,"co2":322},{"age":3.2,"co2":305},{"age":3.29,"co2":286},{"age":3.35,"co2":298},{"age":3.4,"co2":317},{"age":3.46,"co2":335},{"age":3.52,"co2":348},{"age":3.6,"co2":345},{"age":3.7,"co2":338},{"age":3.8,"co2":335},{"age":3.9,"co2":345},{"age":4.0,"co2":354},{"age":4.08,"co2":358},{"age":4.18,"co2":356},{"age":4.27,"co2":353},{"age":4.4,"co2":352},{"age":4.5,"co2":350},{"age":4.59,"co2":348},{"age":4.68,"co2":356},{"age":4.78,"co2":370},{"age":4.87,"co2":377},{"age":4.93,"co2":372},{"age":4.99,"co2":358},{"age":5.07,"co2":335},{"age":5.15,"co2":312},{"age":5.25,"co2":292},{"age":5.34,"co2":276},{"age":5.42,"co2":265},{"age":5.52,"co2":253}
  ],
  "co2": [
{"proxy":"Beaver Pond","age":3.9,"co2":438,"lo":389,"hi":490,"xlo":3.4,"xhi":5.41},
{"proxy":"Alkenone","age":0.99,"co2":431,"lo":400,"hi":500},{"proxy":"Alkenone","age":0.84,"co2":371,"lo":345,"hi":397},{"proxy":"Alkenone","age":0.9,"co2":361,"lo":335,"hi":390},{"proxy":"Alkenone","age":0.97,"co2":379,"lo":352,"hi":405},{"proxy":"Alkenone","age":1.03,"co2":394,"lo":365,"hi":420},{"proxy":"Alkenone","age":1.08,"co2":369,"lo":340,"hi":398},{"proxy":"Alkenone","age":1.17,"co2":374,"lo":345,"hi":402},{"proxy":"Alkenone","age":1.22,"co2":385,"lo":355,"hi":412},{"proxy":"Alkenone","age":1.29,"co2":392,"lo":362,"hi":415},{"proxy":"Alkenone","age":1.27,"co2":358,"lo":330,"hi":388},{"proxy":"Alkenone","age":1.2,"co2":354,"lo":325,"hi":380},{"proxy":"Alkenone","age":1.25,"co2":338,"lo":310,"hi":365},{"proxy":"Alkenone","age":1.31,"co2":348,"lo":318,"hi":375},{"proxy":"Alkenone","age":1.36,"co2":374,"lo":345,"hi":405},{"proxy":"Alkenone","age":1.48,"co2":356,"lo":330,"hi":385},{"proxy":"Alkenone","age":1.06,"co2":325,"lo":300,"hi":350},{"proxy":"Alkenone","age":1.12,"co2":322,"lo":298,"hi":348},{"proxy":"Alkenone","age":0.84,"co2":296,"lo":270,"hi":322},{"proxy":"Alkenone","age":1.5,"co2":301,"lo":275,"hi":328},{"proxy":"Alkenone","age":1.63,"co2":323,"lo":300,"hi":390},{"proxy":"Alkenone","age":1.74,"co2":335,"lo":310,"hi":360},{"proxy":"Alkenone","age":1.76,"co2":366,"lo":340,"hi":392},{"proxy":"Alkenone","age":1.81,"co2":358,"lo":332,"hi":385},{"proxy":"Alkenone","age":1.87,"co2":387,"lo":360,"hi":412},{"proxy":"Alkenone","age":1.92,"co2":377,"lo":350,"hi":402},{"proxy":"Alkenone","age":2.02,"co2":389,"lo":362,"hi":415},{"proxy":"Alkenone","age":2.1,"co2":356,"lo":330,"hi":382},{"proxy":"Alkenone","age":1.97,"co2":333,"lo":308,"hi":358},{"proxy":"Alkenone","age":1.81,"co2":304,"lo":280,"hi":328},{"proxy":"Alkenone","age":1.62,"co2":291,"lo":268,"hi":315},{"proxy":"Alkenone","age":1.33,"co2":378,"lo":350,"hi":405},{"proxy":"Alkenone","age":1.38,"co2":360,"lo":335,"hi":390},{"proxy":"Alkenone","age":1.4,"co2":340,"lo":315,"hi":368},{"proxy":"Alkenone","age":1.35,"co2":395,"lo":368,"hi":420},{"proxy":"Alkenone","age":1.3,"co2":365,"lo":338,"hi":392},{"proxy":"Alkenone","age":1.42,"co2":318,"lo":295,"hi":345},{"proxy":"Alkenone","age":2.38,"co2":444,"lo":420,"hi":470},{"proxy":"Alkenone","age":2.46,"co2":433,"lo":410,"hi":458},{"proxy":"Alkenone","age":2.53,"co2":423,"lo":400,"hi":448},{"proxy":"Alkenone","age":2.16,"co2":392,"lo":365,"hi":418},{"proxy":"Alkenone","age":2.26,"co2":381,"lo":355,"hi":408},{"proxy":"Alkenone","age":2.34,"co2":389,"lo":362,"hi":415},{"proxy":"Alkenone","age":2.1,"co2":353,"lo":328,"hi":378},{"proxy":"Alkenone","age":2.31,"co2":364,"lo":340,"hi":390},{"proxy":"Alkenone","age":2.4,"co2":369,"lo":345,"hi":395},{"proxy":"Alkenone","age":2.48,"co2":343,"lo":318,"hi":368},{"proxy":"Alkenone","age":2.35,"co2":281,"lo":240,"hi":317},{"proxy":"Alkenone","age":2.53,"co2":392,"lo":365,"hi":418},{"proxy":"Alkenone","age":2.6,"co2":387,"lo":360,"hi":412},{"proxy":"Alkenone","age":2.6,"co2":358,"lo":330,"hi":385},{"proxy":"Alkenone","age":2.6,"co2":325,"lo":300,"hi":350},{"proxy":"Alkenone","age":2.59,"co2":291,"lo":268,"hi":315},{"proxy":"Alkenone","age":2.73,"co2":394,"lo":360,"hi":460},{"proxy":"Alkenone","age":2.73,"co2":340,"lo":310,"hi":470},{"proxy":"Alkenone","age":2.82,"co2":405,"lo":370,"hi":480},{"proxy":"Alkenone","age":2.86,"co2":374,"lo":340,"hi":490},{"proxy":"Alkenone","age":2.83,"co2":358,"lo":320,"hi":470},{"proxy":"Alkenone","age":2.91,"co2":415,"lo":385,"hi":445},{"proxy":"Alkenone","age":3.01,"co2":425,"lo":398,"hi":452},{"proxy":"Alkenone","age":2.8,"co2":291,"lo":265,"hi":318},{"proxy":"Alkenone","age":2.86,"co2":294,"lo":268,"hi":320},{"proxy":"Alkenone","age":2.87,"co2":263,"lo":240,"hi":288},{"proxy":"Alkenone","age":2.96,"co2":299,"lo":272,"hi":325},{"proxy":"Alkenone","age":2.95,"co2":333,"lo":305,"hi":360},{"proxy":"Alkenone","age":3.03,"co2":330,"lo":305,"hi":355},{"proxy":"Alkenone","age":3.08,"co2":364,"lo":338,"hi":390},{"proxy":"Alkenone","age":3.1,"co2":330,"lo":305,"hi":355},{"proxy":"Alkenone","age":3.17,"co2":364,"lo":338,"hi":390},{"proxy":"Alkenone","age":3.17,"co2":780,"lo":500,"hi":1000},{"proxy":"Alkenone","age":3.25,"co2":374,"lo":348,"hi":400},{"proxy":"Alkenone","age":3.33,"co2":364,"lo":338,"hi":390},{"proxy":"Alkenone","age":3.38,"co2":343,"lo":318,"hi":368},{"proxy":"Alkenone","age":3.45,"co2":402,"lo":375,"hi":430},{"proxy":"Alkenone","age":3.52,"co2":374,"lo":348,"hi":400},{"proxy":"Alkenone","age":3.54,"co2":307,"lo":282,"hi":332},{"proxy":"Alkenone","age":2.12,"co2":237,"lo":215,"hi":260},{"proxy":"Alkenone","age":3.75,"co2":405,"lo":378,"hi":432},{"proxy":"Alkenone","age":3.99,"co2":405,"lo":378,"hi":432},{"proxy":"Alkenone","age":4.06,"co2":436,"lo":400,"hi":520},{"proxy":"Alkenone","age":4.1,"co2":413,"lo":385,"hi":500},{"proxy":"Alkenone","age":4.1,"co2":394,"lo":365,"hi":480},{"proxy":"Alkenone","age":4.1,"co2":374,"lo":345,"hi":460},{"proxy":"Alkenone","age":3.67,"co2":374,"lo":348,"hi":400},{"proxy":"Alkenone","age":3.85,"co2":350,"lo":322,"hi":378},{"proxy":"Alkenone","age":4.25,"co2":371,"lo":345,"hi":398},{"proxy":"Alkenone","age":4.3,"co2":340,"lo":312,"hi":368},{"proxy":"Alkenone","age":4.45,"co2":407,"lo":380,"hi":432},{"proxy":"Alkenone","age":4.6,"co2":400,"lo":372,"hi":428},{"proxy":"Alkenone","age":4.76,"co2":413,"lo":385,"hi":440},{"proxy":"Alkenone","age":4.79,"co2":389,"lo":362,"hi":415},{"proxy":"Alkenone","age":4.94,"co2":410,"lo":360,"hi":1000},{"proxy":"Alkenone","age":4.82,"co2":353,"lo":300,"hi":405},{"proxy":"Alkenone","age":3.57,"co2":304,"lo":278,"hi":330},{"proxy":"Alkenone","age":3.69,"co2":284,"lo":258,"hi":310},{"proxy":"Alkenone","age":3.81,"co2":294,"lo":268,"hi":320},{"proxy":"Alkenone","age":3.92,"co2":284,"lo":258,"hi":310},{"proxy":"Alkenone","age":4.04,"co2":320,"lo":292,"hi":345},{"proxy":"Alkenone","age":4.0,"co2":307,"lo":280,"hi":332},{"proxy":"Alkenone","age":4.11,"co2":284,"lo":258,"hi":310},{"proxy":"Alkenone","age":4.22,"co2":286,"lo":260,"hi":312},{"proxy":"Alkenone","age":4.31,"co2":291,"lo":265,"hi":318},{"proxy":"Alkenone","age":4.55,"co2":304,"lo":278,"hi":330},{"proxy":"Alkenone","age":4.67,"co2":315,"lo":288,"hi":342},{"proxy":"Alkenone","age":3.82,"co2":240,"lo":215,"hi":265},{"proxy":"Alkenone","age":5.41,"co2":260,"lo":240,"hi":282},
{"proxy":"B/Ca","age":0.87,"co2":312,"lo":290,"hi":335},{"proxy":"B/Ca","age":0.87,"co2":276,"lo":255,"hi":298},{"proxy":"B/Ca","age":0.94,"co2":265,"lo":245,"hi":288},{"proxy":"B/Ca","age":0.96,"co2":234,"lo":212,"hi":255},{"proxy":"B/Ca","age":1.01,"co2":209,"lo":190,"hi":230},{"proxy":"B/Ca","age":0.9,"co2":178,"lo":160,"hi":198},{"proxy":"B/Ca","age":1.08,"co2":276,"lo":255,"hi":298},{"proxy":"B/Ca","age":1.17,"co2":245,"lo":225,"hi":268},{"proxy":"B/Ca","age":1.29,"co2":240,"lo":220,"hi":262},{"proxy":"B/Ca","age":1.36,"co2":322,"lo":300,"hi":345},{"proxy":"B/Ca","age":1.41,"co2":312,"lo":290,"hi":335},{"proxy":"B/Ca","age":1.31,"co2":296,"lo":275,"hi":318},{"proxy":"B/Ca","age":1.39,"co2":261,"lo":240,"hi":282},{"proxy":"B/Ca","age":1.2,"co2":312,"lo":290,"hi":335},{"proxy":"B/Ca","age":0.8,"co2":281,"lo":260,"hi":302},{"proxy":"B/Ca","age":1.27,"co2":265,"lo":245,"hi":288},{"proxy":"B/Ca","age":1.34,"co2":330,"lo":308,"hi":352},{"proxy":"B/Ca","age":1.38,"co2":290,"lo":268,"hi":312},{"proxy":"B/Ca","age":2.5,"co2":206,"lo":185,"hi":228},{"proxy":"B/Ca","age":2.68,"co2":219,"lo":198,"hi":240},{"proxy":"B/Ca","age":2.75,"co2":201,"lo":180,"hi":222},{"proxy":"B/Ca","age":2.86,"co2":180,"lo":160,"hi":200},{"proxy":"B/Ca","age":3.03,"co2":237,"lo":215,"hi":258},{"proxy":"B/Ca","age":3.01,"co2":214,"lo":192,"hi":235},{"proxy":"B/Ca","age":3.2,"co2":242,"lo":220,"hi":265},{"proxy":"B/Ca","age":3.26,"co2":209,"lo":188,"hi":230},{"proxy":"B/Ca","age":3.35,"co2":300,"lo":278,"hi":322},{"proxy":"B/Ca","age":3.4,"co2":280,"lo":258,"hi":302},{"proxy":"B/Ca","age":3.42,"co2":260,"lo":238,"hi":282},{"proxy":"B/Ca","age":3.45,"co2":270,"lo":248,"hi":292},{"proxy":"B/Ca","age":3.38,"co2":250,"lo":228,"hi":272},{"proxy":"B/Ca","age":3.44,"co2":240,"lo":218,"hi":262},{"proxy":"B/Ca","age":3.48,"co2":290,"lo":268,"hi":312},{"proxy":"B/Ca","age":3.36,"co2":235,"lo":213,"hi":257},{"proxy":"B/Ca","age":3.41,"co2":300,"lo":278,"hi":322},{"proxy":"B/Ca","age":3.46,"co2":255,"lo":233,"hi":277},{"proxy":"B/Ca","age":3.39,"co2":270,"lo":248,"hi":292},{"proxy":"B/Ca","age":3.43,"co2":285,"lo":263,"hi":307},{"proxy":"B/Ca","age":3.37,"co2":265,"lo":243,"hi":287},{"proxy":"B/Ca","age":3.39,"co2":309,"lo":287,"hi":331},{"proxy":"B/Ca","age":3.44,"co2":320,"lo":298,"hi":342},{"proxy":"B/Ca","age":5.06,"co2":330,"lo":308,"hi":352},{"proxy":"B/Ca","age":5.09,"co2":309,"lo":288,"hi":330},{"proxy":"B/Ca","age":5.16,"co2":237,"lo":215,"hi":260},
{"proxy":"Boron Isotope","age":0.96,"co2":312,"lo":290,"hi":335},{"proxy":"Boron Isotope","age":1.08,"co2":296,"lo":275,"hi":318},{"proxy":"Boron Isotope","age":0.94,"co2":286,"lo":265,"hi":308},{"proxy":"Boron Isotope","age":1.08,"co2":255,"lo":235,"hi":278},{"proxy":"Boron Isotope","age":1.17,"co2":265,"lo":245,"hi":288},{"proxy":"Boron Isotope","age":1.24,"co2":271,"lo":250,"hi":292},{"proxy":"Boron Isotope","age":1.24,"co2":240,"lo":220,"hi":262},{"proxy":"Boron Isotope","age":1.21,"co2":219,"lo":198,"hi":240},{"proxy":"Boron Isotope","age":1.26,"co2":201,"lo":180,"hi":222},{"proxy":"Boron Isotope","age":1.19,"co2":207,"lo":186,"hi":228},{"proxy":"Boron Isotope","age":1.35,"co2":286,"lo":265,"hi":308},{"proxy":"Boron Isotope","age":1.41,"co2":219,"lo":198,"hi":240},{"proxy":"Boron Isotope","age":1.5,"co2":268,"lo":248,"hi":290},{"proxy":"Boron Isotope","age":1.56,"co2":216,"lo":195,"hi":238},{"proxy":"Boron Isotope","age":1.66,"co2":268,"lo":248,"hi":290},{"proxy":"Boron Isotope","age":1.66,"co2":216,"lo":195,"hi":238},{"proxy":"Boron Isotope","age":1.85,"co2":268,"lo":248,"hi":290},{"proxy":"Boron Isotope","age":1.85,"co2":219,"lo":198,"hi":240},{"proxy":"Boron Isotope","age":1.94,"co2":193,"lo":172,"hi":215},{"proxy":"Boron Isotope","age":1.97,"co2":178,"lo":158,"hi":200},{"proxy":"Boron Isotope","age":2.04,"co2":203,"lo":182,"hi":225},{"proxy":"Boron Isotope","age":2.05,"co2":237,"lo":215,"hi":258},{"proxy":"Boron Isotope","age":1.94,"co2":296,"lo":275,"hi":318},{"proxy":"Boron Isotope","age":2.02,"co2":281,"lo":260,"hi":302},{"proxy":"Boron Isotope","age":0.9,"co2":193,"lo":172,"hi":215},{"proxy":"Boron Isotope","age":1.48,"co2":219,"lo":198,"hi":240},{"proxy":"Boron Isotope","age":3.01,"co2":180,"lo":155,"hi":205},{"proxy":"Boron Isotope","age":3.31,"co2":222,"lo":200,"hi":245},{"proxy":"Boron Isotope","age":3.9,"co2":250,"lo":228,"hi":272},
{"proxy":"Paleosol","age":3.29,"co2":290,"lo":265,"hi":315},{"proxy":"Paleosol","age":3.97,"co2":300,"lo":0,"hi":603},{"proxy":"Paleosol","age":5.0,"co2":348,"lo":325,"hi":372},
{"proxy":"Stomata","age":1.97,"co2":361,"lo":340,"hi":385},{"proxy":"Stomata","age":2.69,"co2":278,"lo":255,"hi":300},{"proxy":"Stomata","age":3.45,"co2":358,"lo":335,"hi":380},{"proxy":"Stomata","age":3.93,"co2":364,"lo":340,"hi":388},{"proxy":"Stomata","age":4.66,"co2":271,"lo":250,"hi":292},{"proxy":"Stomata","age":5.2,"co2":358,"lo":338,"hi":380}
  ]
},
"vconcat": [
  {
    "width": 819, "height": 418,
    "layer": [
      {"data": {"name": "shade"}, "mark": {"type": "rect", "color": "#dccfa6"},
       "encoding": {"x": {"field": "x1", "type": "quantitative", "scale": {"domain": [-0.21, 5.52], "nice": false, "zero": false}, "axis": null}, "x2": {"field": "x2"}}},
      {"data": {"name": "iso"}, "mark": {"type": "point", "shape": "circle", "filled": false, "stroke": "#6b6b6b", "strokeWidth": 1.1, "size": 40},
       "encoding": {
         "x": {"field": "age", "type": "quantitative", "axis": null},
         "y": {"field": "d", "type": "quantitative", "scale": {"domain": [2.566, 5.29], "reverse": true, "nice": false, "zero": false},
               "axis": {"orient": "left", "values": [3, 3.5, 4, 4.5, 5], "format": ".1f", "labelAngle": 270, "labelAlign": "center", "labelBaseline": "bottom", "labelPadding": 3, "title": "δ¹⁸O per mil", "titleAngle": 270, "titleX": -65, "titleY": 186, "titleAlign": "center", "titleBaseline": "middle"}}}},
      {"data": {"values": [{}]}, "mark": {"type": "rule", "strokeDash": [9, 7], "color": "#555", "strokeWidth": 1.5},
       "encoding": {"y": {"datum": 3.0, "type": "quantitative", "axis": null}}},
      {"data": {"values": [{}]}, "mark": {"type": "text", "text": "Pliocene Δ MAT = 3.0°C", "align": "left", "baseline": "middle", "fontSize": 25, "font": "Liberation Sans", "color": "#222"},
       "encoding": {"x": {"datum": -0.085, "type": "quantitative", "axis": null}, "y": {"datum": 2.92, "type": "quantitative", "axis": null}}},
      {"data": {"name": "isoLine"}, "mark": {"type": "line", "color": "#000", "strokeWidth": 3, "clip": true},
       "encoding": {
         "x": {"field": "age", "type": "quantitative", "axis": null},
         "y": {"field": "d", "type": "quantitative",
               "axis": {"orient": "right", "values": [3, 3.5, 4, 4.5, 5], "labelExpr": "datum.value == 3 ? '3' : datum.value == 3.5 ? '1.5' : datum.value == 4 ? '0' : datum.value == 4.5 ? '−0.5' : '−1'", "labelAngle": 270, "labelAlign": "center", "labelBaseline": "top", "labelPadding": 9, "title": "ΔMAT °C", "titleAngle": 270, "titleX": 71, "titleY": 246, "titleAlign": "center", "titleBaseline": "middle"}}}}
    ],
    "resolve": {"axis": {"y": "independent"}}
  },
  {
    "width": 819, "height": 421,
    "layer": [
      {"data": {"name": "shade"}, "mark": {"type": "rect", "color": "#dccfa6"},
       "encoding": {"x": {"field": "x1", "type": "quantitative", "scale": {"domain": [-0.21, 5.52], "nice": false, "zero": false},
                          "axis": {"orient": "bottom", "values": [0, 1, 2, 3, 4, 5], "format": "d", "title": "Age (MYA)", "tickSize": 15, "labelPadding": 8, "titlePadding": 5}},
                    "x2": {"field": "x2"}}},
      {"data": {"values": [{}]}, "mark": {"type": "rule", "strokeDash": [9, 7], "color": "#555", "strokeWidth": 1.5},
       "encoding": {"y": {"datum": 405, "type": "quantitative", "scale": {"domain": [75, 727], "nice": false, "zero": false}, "axis": null}}},
      {"data": {"name": "ice"}, "mark": {"type": "line", "color": "#000", "strokeWidth": 2.5},
       "encoding": {"x": {"field": "age", "type": "quantitative"}, "y": {"field": "co2", "type": "quantitative", "axis": null}}},
      {"data": {"name": "co2"}, "transform": [{"filter": "datum.proxy != 'Beaver Pond'"}], "mark": {"type": "rule", "color": "#8e8e8e", "strokeWidth": 1, "clip": true},
       "encoding": {"x": {"field": "age", "type": "quantitative"}, "y": {"field": "lo", "type": "quantitative", "axis": null}, "y2": {"field": "hi"}}},
      {"data": {"name": "co2"}, "transform": [{"filter": "datum.proxy != 'Beaver Pond'"}], "mark": {"type": "tick", "orient": "horizontal", "color": "#8e8e8e", "size": 18, "thickness": 1, "clip": true},
       "encoding": {"x": {"field": "age", "type": "quantitative"}, "y": {"field": "lo", "type": "quantitative", "axis": null}}},
      {"data": {"name": "co2"}, "transform": [{"filter": "datum.proxy != 'Beaver Pond'"}], "mark": {"type": "tick", "orient": "horizontal", "color": "#8e8e8e", "size": 18, "thickness": 1, "clip": true},
       "encoding": {"x": {"field": "age", "type": "quantitative"}, "y": {"field": "hi", "type": "quantitative", "axis": null}}},
      {"data": {"name": "co2"}, "transform": [{"filter": "datum.proxy == 'Beaver Pond'"}], "mark": {"type": "rule", "color": "#111", "strokeWidth": 2.5},
       "encoding": {"x": {"field": "age", "type": "quantitative"}, "y": {"field": "lo", "type": "quantitative", "axis": null}, "y2": {"field": "hi"}}},
      {"data": {"name": "co2"}, "transform": [{"filter": "datum.proxy == 'Beaver Pond'"}], "mark": {"type": "rule", "color": "#111", "strokeWidth": 2.5},
       "encoding": {"x": {"field": "xlo", "type": "quantitative"}, "x2": {"field": "xhi"}, "y": {"field": "co2", "type": "quantitative", "axis": null}}},
      {"data": {"name": "co2"}, "transform": [{"filter": "datum.proxy == 'Beaver Pond'"}], "mark": {"type": "tick", "orient": "horizontal", "color": "#111", "size": 22, "thickness": 2.5},
       "encoding": {"x": {"field": "age", "type": "quantitative"}, "y": {"field": "lo", "type": "quantitative", "axis": null}}},
      {"data": {"name": "co2"}, "transform": [{"filter": "datum.proxy == 'Beaver Pond'"}], "mark": {"type": "tick", "orient": "horizontal", "color": "#111", "size": 22, "thickness": 2.5},
       "encoding": {"x": {"field": "age", "type": "quantitative"}, "y": {"field": "hi", "type": "quantitative", "axis": null}}},
      {"data": {"name": "co2"}, "transform": [{"filter": "datum.proxy == 'Beaver Pond'"}], "mark": {"type": "tick", "orient": "vertical", "color": "#111", "size": 22, "thickness": 2.5},
       "encoding": {"x": {"field": "xlo", "type": "quantitative"}, "y": {"field": "co2", "type": "quantitative", "axis": null}}},
      {"data": {"name": "co2"}, "transform": [{"filter": "datum.proxy == 'Beaver Pond'"}], "mark": {"type": "tick", "orient": "vertical", "color": "#111", "size": 22, "thickness": 2.5},
       "encoding": {"x": {"field": "xhi", "type": "quantitative"}, "y": {"field": "co2", "type": "quantitative", "axis": null}}},
      {"data": {"name": "co2"}, "transform": [{"filter": "datum.proxy != 'Beaver Pond'"}], "mark": {"type": "point", "filled": true, "opacity": 1, "stroke": "#3a3a3a", "strokeWidth": 0.8, "clip": true},
       "encoding": {
         "x": {"field": "age", "type": "quantitative"},
         "y": {"field": "co2", "type": "quantitative",
               "axis": {"orient": "left", "values": [100, 200, 300, 400, 500, 600, 700], "labelExpr": "datum.value % 200 == 100 ? datum.label : ''", "labelAngle": 270, "labelAlign": "center", "labelBaseline": "bottom", "labelPadding": 3, "title": "CO₂ ppm", "titleAngle": 270, "titleX": -68, "titleY": 212, "titleAlign": "center", "titleBaseline": "middle"}},
         "color": {"field": "proxy", "type": "nominal",
                   "scale": {"domain": ["Beaver Pond", "Boron Isotope", "Paleosol", "Alkenone", "B/Ca", "Stomata"], "range": ["#3fdfe6", "#eeee2e", "#ef8a2c", "#e22a1f", "#1f3ccc", "#33bf3c"]},
                   "legend": {"orient": "top-left", "title": null, "offset": 12, "padding": 3, "labelFontSize": 25, "labelColor": "#222", "labelOffset": 14, "rowPadding": 3, "symbolStrokeColor": "#333", "symbolStrokeWidth": 1}},
         "shape": {"field": "proxy", "type": "nominal",
                   "scale": {"domain": ["Beaver Pond", "Boron Isotope", "Paleosol", "Alkenone", "B/Ca", "Stomata"], "range": ["square", "triangle-down", "circle", "diamond", "square", "triangle-up"]},
                   "legend": {"orient": "top-left", "title": null, "offset": 12, "padding": 3, "labelFontSize": 25, "labelColor": "#222", "labelOffset": 14, "rowPadding": 3, "symbolStrokeColor": "#333", "symbolStrokeWidth": 1}},
         "size": {"field": "proxy", "type": "nominal",
                   "scale": {"domain": ["Beaver Pond", "Boron Isotope", "Paleosol", "Alkenone", "B/Ca", "Stomata"], "range": [130, 170, 130, 330, 130, 170]},
                   "legend": {"orient": "top-left", "title": null, "offset": 12, "padding": 3, "labelFontSize": 25, "labelColor": "#222", "labelOffset": 14, "rowPadding": 3, "symbolStrokeColor": "#333", "symbolStrokeWidth": 1}}
       }},
      {"data": {"name": "co2"}, "transform": [{"filter": "datum.proxy == 'Beaver Pond'"}], "mark": {"type": "square", "color": "#3fdfe6", "stroke": "#222", "strokeWidth": 1, "size": 330, "opacity": 1},
       "encoding": {"x": {"field": "age", "type": "quantitative"}, "y": {"field": "co2", "type": "quantitative", "axis": null}}},
      {"data": {"name": "co2Line"}, "mark": {"type": "line", "color": "#000", "strokeWidth": 2.5},
       "encoding": {
         "x": {"field": "age", "type": "quantitative"},
         "y": {"field": "co2", "type": "quantitative",
               "axis": {"orient": "right", "values": [405], "labels": false, "title": ["Modern CO₂", "= 405 ppm"], "titleAngle": 270, "titleX": 41, "titleY": 210, "titleAlign": "center", "titleBaseline": "middle", "titleLineHeight": 26}}}}
    ],
    "resolve": {"axis": {"y": "independent"}}
  }
]
}
